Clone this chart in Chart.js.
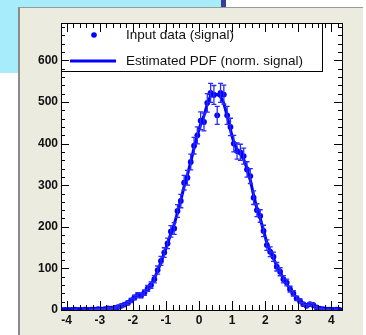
<!DOCTYPE html>
<html>
<head>
<meta charset="utf-8">
<script src="https://cdn.jsdelivr.net/npm/chart.js@4.4.0/dist/chart.umd.min.js"></script>
<style>
html, body { margin: 0; padding: 0; background: #ffffff; }
#wrap { position: relative; width: 366px; height: 335px; overflow: hidden; }
.cyan { position: absolute; left: 0; top: 0; width: 221px; height: 73px; background: #a6ecfa; }
.bar { position: absolute; left: 221px; top: 0; width: 5px; height: 8px; background: #3b3b9c; }
.panel { position: absolute; left: 18px; top: 7px; width: 345px; height: 328px; background: #ecebe0;
         border-left: 2px solid #8c8c8c; border-top: 1px solid #9a9a9a; box-sizing: border-box; }
canvas { position: absolute; left: 0; top: 0; }
</style>
</head>
<body>
<div id="wrap">
  <div class="cyan"></div>
  <div class="bar"></div>
  <div class="panel"></div>
  <canvas id="c" width="366" height="335"></canvas>
</div>
<script>
// Bin centres of the signal histogram (bin width 0.1)
const binCenters = [
  -4.15, -4.05, -3.95, -3.85, -3.75, -3.65, -3.55, -3.45, -3.35, -3.25,
  -3.15, -3.05, -2.95, -2.85, -2.75, -2.65, -2.55, -2.45, -2.35, -2.25,
  -2.15, -2.05, -1.95, -1.85, -1.75, -1.65, -1.55, -1.45, -1.35, -1.25,
  -1.15, -1.05, -0.95, -0.85, -0.75, -0.65, -0.55, -0.45, -0.35, -0.25,
  -0.15, -0.05, 0.05, 0.15, 0.25, 0.35, 0.45, 0.55, 0.65, 0.75,
  0.85, 0.95, 1.05, 1.15, 1.25, 1.35, 1.45, 1.55, 1.65, 1.75,
  1.85, 1.95, 2.05, 2.15, 2.25, 2.35, 2.45, 2.55, 2.65, 2.75,
  2.85, 2.95, 3.05, 3.15, 3.25, 3.35, 3.45, 3.55, 3.65, 3.75,
  3.85, 3.95, 4.05, 4.15, 4.25
];

// Input data (signal): entries per bin
const signalCounts = [
  0, 0, 0, 0, 1, 0, 0, 1, 0, 1,
  1, 2, 1, 2, 4, 3, 5, 7, 10, 13,
  17, 23, 30, 36, 35, 42, 52, 60, 74, 96,
  118, 138, 160, 189, 196, 238, 262, 306, 318, 356,
  395, 420, 455, 452, 498, 522, 517, 468, 522, 518,
  468, 440, 400, 382, 379, 370, 338, 322, 270, 240,
  226, 190, 156, 140, 128, 104, 92, 74, 66, 50,
  40, 28, 22, 14, 10, 14, 12, 6, 3, 2,
  1, 1, 0, 1, 0
];

// Statistical uncertainty per bin
const signalErrors = [
  0, 0, 0, 0, 1, 0, 0, 1, 0, 1,
  1, 1.4, 1, 1.4, 2, 1.7, 2.2, 2.6, 3.2, 3.6,
  4.1, 4.8, 5.5, 6, 5.9, 6.5, 7.2, 7.7, 8.6, 9.8,
  10.9, 11.7, 12.6, 13.7, 14, 15.4, 16.2, 17.5, 17.8, 18.9,
  19.9, 20.5, 21.3, 21.3, 22.3, 22.8, 22.7, 21.6, 22.8, 22.8,
  21.6, 21, 20, 19.5, 19.5, 19.2, 18.4, 17.9, 16.4, 15.5,
  15, 13.8, 12.5, 11.8, 11.3, 10.2, 9.6, 8.6, 8.1, 7.1,
  6.3, 5.3, 4.7, 3.7, 3.2, 3.7, 3.5, 2.4, 1.7, 1.4,
  1, 1, 0, 1, 0
];

// Estimated PDF (normalised to the signal sample)
const pdfValues = [
  0, 0, 0, 0, 0.5, 0.5, 0.5, 0.5, 0.6, 0.8,
  1, 1.3, 1.7, 2.3, 3.1, 4, 5.3, 7, 9.5, 13,
  17, 22.5, 28, 33, 37, 43, 51, 62, 76, 94,
  115, 137, 160, 184, 206, 234, 264, 297, 325, 356,
  390, 420, 447, 467, 495, 515, 520, 518, 513, 497,
  467, 433, 403, 385, 375, 362, 340, 312, 276, 244,
  220, 190, 162, 141, 124, 106, 90, 76, 63, 50,
  39, 29, 21, 15, 12, 12, 11, 7, 4, 2,
  1.2, 0.8, 0.5, 0.4, 0.3
];

const xTickValues = [-4, -3, -2, -1, 0, 1, 2, 3, 4];
const yTickValues = [0, 100, 200, 300, 400, 500, 600];
const seriesLabels = ['Input data (signal)', 'Estimated PDF (norm. signal)'];

const BLUE = '#0000ff';
const X_RANGE = [-4.17, 4.32];
const Y_RANGE = [0, 690];
const X_MINOR_STEP = 0.2;
const Y_MINOR_STEP = 20;

// White pad behind the frame
const padFill = {
  id: 'padFill',
  beforeDraw(chart) {
    const { ctx, chartArea: a } = chart;
    ctx.save();
    ctx.fillStyle = '#ffffff';
    ctx.fillRect(a.left, a.top, a.right - a.left, a.bottom - a.top);
    ctx.restore();
  }
};

// Vertical error bars with small caps for the data series
const errorBars = {
  id: 'errorBars',
  afterDatasetsDraw(chart) {
    const { ctx } = chart;
    const xs = chart.scales.x, ys = chart.scales.y;
    ctx.save();
    ctx.strokeStyle = '#2a2aff';
    ctx.lineWidth = 1.3;
    binCenters.forEach((xv, i) => {
      const e = signalErrors[i];
      if (!e) return;
      const px = xs.getPixelForValue(xv);
      const lo = ys.getPixelForValue(Math.max(0, signalCounts[i] - e));
      const hi = ys.getPixelForValue(signalCounts[i] + e);
      ctx.beginPath();
      ctx.moveTo(px, lo); ctx.lineTo(px, hi);
      ctx.moveTo(px - 2.5, hi); ctx.lineTo(px + 2.5, hi);
      ctx.moveTo(px - 2.5, lo); ctx.lineTo(px + 2.5, lo);
      ctx.stroke();
    });
    ctx.restore();
  }
};

// Legend box, frame and inward tick marks on all four sides
const frameAndLegend = {
  id: 'frameAndLegend',
  afterDraw(chart) {
    const { ctx, chartArea: a } = chart;
    const xs = chart.scales.x, ys = chart.scales.y;
    ctx.save();

    // legend
    const lx = a.left, ly = a.top, lw = 261, lh = 48;
    ctx.fillStyle = '#ffffff';
    ctx.fillRect(lx, ly, lw, lh);
    ctx.strokeStyle = '#000000';
    ctx.lineWidth = 1;
    ctx.strokeRect(lx + 0.5, ly + 0.5, lw, lh);
    ctx.beginPath();
    ctx.fillStyle = BLUE;
    ctx.arc(lx + 33, ly + 12, 2.8, 0, Math.PI * 2);
    ctx.fill();
    ctx.strokeStyle = BLUE;
    ctx.lineWidth = 2.8;
    ctx.beginPath();
    ctx.moveTo(lx + 9, ly + 38); ctx.lineTo(lx + 55, ly + 38);
    ctx.stroke();
    ctx.fillStyle = '#111111';
    ctx.font = '13.5px "Liberation Sans", Arial, sans-serif';
    ctx.textBaseline = 'middle';
    ctx.textAlign = 'left';
    ctx.fillText(chart.data.datasets[0].label, lx + 65, ly + 12);
    ctx.fillText(chart.data.datasets[1].label, lx + 65, ly + 38);

    // frame
    ctx.strokeStyle = '#000000';
    ctx.lineWidth = 1;
    ctx.strokeRect(Math.round(a.left) + 0.5, Math.round(a.top) + 0.5,
                   Math.round(a.right - a.left), Math.round(a.bottom - a.top));

    // tick marks
    ctx.beginPath();
    const xMajor = 9, xMinor = 5, yMajor = 8, yMinor = 4;
    for (let k = Math.ceil(X_RANGE[0] / X_MINOR_STEP); k * X_MINOR_STEP <= X_RANGE[1]; k++) {
      const v = k * X_MINOR_STEP;
      const isMajor = Math.abs(v - Math.round(v)) < 1e-6;
      const len = isMajor ? xMajor : xMinor;
      const px = Math.round(xs.getPixelForValue(v)) + 0.5;
      ctx.moveTo(px, a.bottom); ctx.lineTo(px, a.bottom - len);
      ctx.moveTo(px, a.top); ctx.lineTo(px, a.top + len);
    }
    for (let v = Y_RANGE[0]; v <= Y_RANGE[1]; v += Y_MINOR_STEP) {
      const isMajor = v % 100 === 0;
      const len = isMajor ? yMajor : yMinor;
      const py = Math.round(ys.getPixelForValue(v)) + 0.5;
      ctx.moveTo(a.left, py); ctx.lineTo(a.left + len, py);
      ctx.moveTo(a.right, py); ctx.lineTo(a.right - len, py);
    }
    ctx.stroke();
    ctx.restore();
  }
};

const tickFont = { family: '"Liberation Sans", Arial, sans-serif', size: 12, weight: 'bold' };

new Chart(document.getElementById('c'), {
  data: {
    labels: binCenters,
    datasets: [
      {
        type: 'scatter',
        label: seriesLabels[0],
        data: binCenters.map((x, i) => ({ x, y: signalCounts[i] })),
        showLine: false,
        pointRadius: 2.9,
        pointHoverRadius: 2.9,
        pointBackgroundColor: BLUE,
        pointBorderWidth: 0,
        order: 1
      },
      {
        type: 'line',
        label: seriesLabels[1],
        data: binCenters.map((x, i) => ({ x, y: pdfValues[i] })),
        borderColor: BLUE,
        borderWidth: 3,
        pointRadius: 0,
        tension: 0,
        fill: false,
        order: 0
      }
    ]
  },
  plugins: [padFill, errorBars, frameAndLegend],
  options: {
    responsive: false,
    animation: false,
    devicePixelRatio: 1,
    layout: { padding: { left: 0, top: 23, right: 24, bottom: 0 } },
    plugins: { legend: { display: false }, tooltip: { enabled: false } },
    scales: {
      x: {
        type: 'linear',
        min: X_RANGE[0],
        max: X_RANGE[1],
        grid: { display: false, drawTicks: false },
        border: { display: false },
        afterBuildTicks: s => { s.ticks = xTickValues.map(value => ({ value })); },
        afterFit: s => { s.height = 25; },
        ticks: { font: tickFont, color: '#111111', padding: 3, maxRotation: 0, autoSkip: false }
      },
      y: {
        type: 'linear',
        min: Y_RANGE[0],
        max: Y_RANGE[1],
        grid: { display: false, drawTicks: false },
        border: { display: false },
        afterBuildTicks: s => { s.ticks = yTickValues.map(value => ({ value })); },
        afterFit: s => { s.width = 61; },
        ticks: { font: tickFont, color: '#111111', padding: 3, autoSkip: false }
      }
    }
  }
});
</script>
</body>
</html>
